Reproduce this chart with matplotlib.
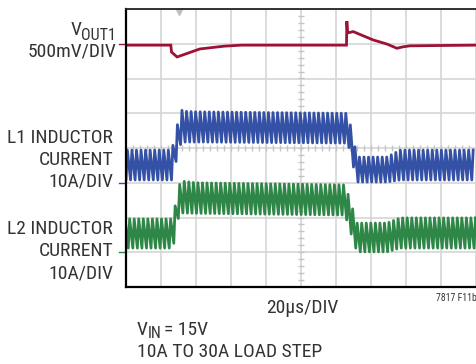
import numpy as np
import matplotlib.pyplot as plt
from matplotlib import font_manager as fm

# look for a narrow sans face, close to the scope screenshot lettering
pref = ['LiberationSansNarrow-Regular', 'RobotoCondensed-Regular', 'DejaVuSansCondensed.ttf',
        'OpenSans_Condensed-Regular', 'LiberationSans-Regular']
font_file = None
for p in pref:
    for f in fm.fontManager.ttflist:
        if p in f.fname:
            font_file = f.fname
            break
    if font_file:
        break

# scope screen in divisions: 10 x 8, 20us/DIV
# VOUT1 trace (500mV/DIV)
vout_t = [0, 1.28, 1.30, 1.46, 2.11, 2.8, 3.3, 6.30, 6.31, 6.33, 6.49, 7.06, 7.46, 7.74, 7.91, 8.11, 10]
vout_v = [6.96, 6.96, 6.76, 6.62, 6.85, 6.93, 6.96, 6.96, 7.65, 7.31, 7.35, 7.11, 6.99, 6.87, 6.91, 6.94, 6.96]

# L1 inductor current ripple envelope (10A/DIV)
l1_t = [0, 1.31, 1.45, 1.58, 1.75, 2.2, 6.30, 6.34, 6.6, 7.46, 7.83, 10]
l1_top = [3.94, 3.94, 4.6, 5.09, 5.05, 5.04, 5.0, 5.0, 3.74, 3.74, 3.94, 3.94]
l1_bot = [3.08, 3.08, 3.7, 4.17, 4.17, 4.17, 4.14, 4.14, 3.02, 3.02, 3.08, 3.08]

# L2 inductor current ripple envelope (10A/DIV)
l2_t = [0, 1.34, 1.50, 1.60, 2.0, 6.2, 6.26, 6.6, 7.46, 7.83, 10]
l2_top = [1.96, 1.96, 2.9, 3.05, 3.0, 2.94, 2.94, 1.84, 1.84, 1.99, 1.99]
l2_bot = [1.12, 1.12, 2.0, 2.13, 2.12, 2.07, 2.07, 1.01, 1.01, 1.12, 1.12]

# ground markers on the left edge
gnd_vout, gnd_l1, gnd_l2 = 7, 3, 1
sw_period = 0.13  # ripple period (div)

c_red = '#9c1236'
c_blue = '#3451a6'
c_green = '#2f8747'
c_text = '#333333'


def ripple_trace(t_env, top, bot, period, phase, duty=0.3):
    # triangle current: valley at each cycle start, peak after the on-time
    ts, ys = [], []
    k = -1
    while True:
        t0 = (k + phase) * period
        if t0 > 10:
            break
        ts += [t0, t0 + duty * period]
        ys += [np.interp(t0, t_env, bot), np.interp(t0 + duty * period, t_env, top)]
        k += 1
    return np.array(ts), np.array(ys)


fig = plt.figure(figsize=(4.77, 3.64), dpi=100)
ax = fig.add_axes([126 / 477, 1 - 287 / 364, 350 / 477, 278 / 364])
ax.set_xlim(0, 10)
ax.set_ylim(0, 8)
ax.set_xticks(range(11))
ax.set_yticks(range(9))
ax.tick_params(length=0, labelbottom=False, labelleft=False)
ax.grid(True, color='#d6d6d6', lw=1.2)
for s in ['left', 'bottom']:
    ax.spines[s].set_linewidth(1.6)
    ax.spines[s].set_color('black')
ax.spines['top'].set_linewidth(1.3)
ax.spines['top'].set_color('#222222')
ax.spines['right'].set_visible(False)

# minor ticks on the centre lines
minor = np.arange(0.2, 10, 0.2)
ax.plot(minor, np.full(len(minor), 4), ls='none', marker='|', ms=4, color='#c4c4c4', mew=1)
minor_y = np.arange(0.2, 8, 0.2)
ax.plot(np.full(len(minor_y), 5), minor_y, ls='none', marker='_', ms=4, color='#c4c4c4', mew=1)

# traces
ax.plot(vout_t, vout_v, color=c_red, lw=2.0, solid_joinstyle='miter')
t1, y1 = ripple_trace(l1_t, l1_top, l1_bot, sw_period, 0.0)
ax.plot(t1, y1, color=c_blue, lw=2.0)
t2, y2 = ripple_trace(l2_t, l2_top, l2_bot, sw_period, 0.5)
ax.plot(t2, y2, color=c_green, lw=2.0)

# ground markers and trigger marker
for g, c in [(gnd_vout, c_red), (gnd_l1, c_blue), (gnd_l2, c_green)]:
    ax.plot([-0.2, -0.05], [g, g], color=c, lw=1, clip_on=False)
ax.plot(1.52, 7.92, marker='v', color='#c0c0c0', ms=5, clip_on=False)


def fp(size):
    if font_file:
        return fm.FontProperties(fname=font_file, size=size)
    return fm.FontProperties(family='DejaVu Sans', size=size)


def label(x, y, s, size=14, **kw):
    return fig.text(x / 477, 1 - y / 364, s, color=c_text, va='center',
                    fontproperties=fp(size), **kw)


# V_OUT1 built from two pieces so it keeps the narrow face
sub = label(116, 36, 'OUT1', size=11.5, ha='right')
fig.canvas.draw()
bb = sub.get_window_extent()
label(bb.x0, 30, 'V', ha='right')
label(116, 52, '500mV/DIV', ha='right')
label(113, 138, 'L1 INDUCTOR', ha='right')
label(113, 160, 'CURRENT', ha='right')
label(113, 182, '10A/DIV', ha='right')
label(113, 229, 'L2 INDUCTOR', ha='right')
label(113, 251, 'CURRENT', ha='right')
label(113, 273, '10A/DIV', ha='right')
label(302, 308, '20µs/DIV', ha='center')
label(477, 298, '7817 F11b', size=7, ha='right')
v = label(137, 330, 'V', ha='left')
fig.canvas.draw()
vb = v.get_window_extent()
ib = label(vb.x1, 334, 'IN', size=11.5, ha='left')
fig.canvas.draw()
label(ib.get_window_extent().x1 + 2, 330, '= 15V', ha='left')
label(137, 352, '10A TO 30A LOAD STEP', ha='left')

fig.savefig('out.png', dpi=100)
